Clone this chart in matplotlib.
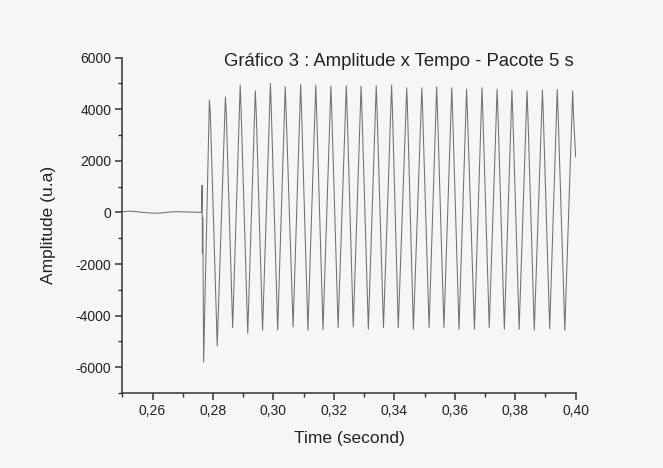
import matplotlib
matplotlib.use("Agg")
import matplotlib.pyplot as plt
from matplotlib.ticker import MultipleLocator, FuncFormatter

plt.rcParams['font.family'] = ['Liberation Sans', 'DejaVu Sans']
plt.rcParams['axes.unicode_minus'] = False

# valores (tempo em s, amplitude em u.a)
t_flat = [0.2500, 0.2530, 0.2560, 0.2590, 0.2620, 0.2650, 0.2680, 0.2710, 0.2740, 0.2762]
v_flat = [30, 50, 10, -20, -30, 10, 30, 20, 10, 0]

t_onset = [0.2764, 0.2765, 0.2766, 0.2767, 0.2769]
v_onset = [1050, -1600, -200, -1600, -5800]

t_peaks = [0.2788, 0.2841, 0.2890, 0.2940, 0.2990, 0.3039, 0.3090, 0.3140, 0.3190,
           0.3241, 0.3290, 0.3340, 0.3391, 0.3441, 0.3491, 0.3540, 0.3590, 0.3639,
           0.3690, 0.3740, 0.3789, 0.3839, 0.3890, 0.3939, 0.3990]
v_peaks = [4354, 4483, 4938, 4716, 5004, 4872, 4965, 4938, 4899, 4911, 4899, 4911,
           4938, 4833, 4833, 4872, 4833, 4782, 4833, 4782, 4743, 4716, 4743, 4770, 4716]
# pequeno "ombro" logo abaixo de cada pico
t_shoulder = [0.2791, 0.2844, 0.2893, 0.2943, 0.2993, 0.3042, 0.3093, 0.3143, 0.3193,
              0.3244, 0.3293, 0.3343, 0.3394, 0.3444, 0.3494, 0.3543, 0.3593, 0.3642,
              0.3693, 0.3743, 0.3792, 0.3842, 0.3893, 0.3942, 0.3993]
v_shoulder = [3900, 3850, 3950, 3900, 3950, 3900, 3950, 3900, 3900, 3900, 3900, 3900,
              3850, 3800, 3800, 3850, 3800, 3800, 3800, 3800, 3750, 3750, 3750, 3800, 3700]

t_troughs = [0.2814, 0.2865, 0.2915, 0.2964, 0.3014, 0.3065, 0.3114, 0.3164, 0.3214,
             0.3264, 0.3314, 0.3364, 0.3413, 0.3463, 0.3515, 0.3564, 0.3614, 0.3665,
             0.3714, 0.3764, 0.3813, 0.3863, 0.3914, 0.3964]
v_troughs = [-5179, -4467, -4685, -4568, -4556, -4440, -4568, -4545, -4467, -4440,
             -4529, -4467, -4467, -4529, -4467, -4467, -4529, -4529, -4467, -4529,
             -4529, -4568, -4506, -4568]

t_end = 0.4000
v_end = 2150

# monta a serie na ordem do tempo
t = list(t_flat) + list(t_onset)
v = list(v_flat) + list(v_onset)
for i in range(len(t_peaks)):
    t += [t_peaks[i], t_shoulder[i]]
    v += [v_peaks[i], v_shoulder[i]]
    if i < len(t_troughs):
        t.append(t_troughs[i])
        v.append(v_troughs[i])
t.append(t_end)
v.append(v_end)

bg = '#f5f7f7'
fig = plt.figure(figsize=(6.63, 4.68), dpi=100, facecolor=bg)
ax = fig.add_axes([0.1845, 0.1603, 0.6838, 0.7164], facecolor=bg)

ax.plot(t, v, color='#707070', lw=0.75)

ax.set_xlim(0.25, 0.40)
ax.set_ylim(-7000, 6000)
ax.xaxis.set_minor_locator(MultipleLocator(0.01))
ax.yaxis.set_minor_locator(MultipleLocator(1000))
ax.xaxis.set_major_formatter(FuncFormatter(lambda x, p: ('%.2f' % x).replace('.', ',')))
ax.xaxis.set_ticks([0.26, 0.28, 0.30, 0.32, 0.34, 0.36, 0.38, 0.40])
ax.yaxis.set_ticks([-6000, -4000, -2000, 0, 2000, 4000, 6000])

for sp in ['top', 'right']:
    ax.spines[sp].set_visible(False)
for sp in ['left', 'bottom']:
    ax.spines[sp].set_linewidth(1.1)
    ax.spines[sp].set_color('#333333')

ax.tick_params(which='major', direction='out', length=5, width=1.1, color='#333333',
               labelsize=10, pad=3, labelcolor='#222222')
ax.tick_params(which='minor', direction='out', length=3, width=1.0, color='#333333')

ax.set_xlabel('Time (second)', fontsize=12.5, color='#222222', labelpad=9)
ax.set_ylabel('Amplitude (u.a)', fontsize=12.5, color='#222222', labelpad=14)

fig.text(399 / 663, 1 - 62 / 468, 'Gráfico 3 : Amplitude x Tempo - Pacote 5 s',
         fontsize=13.3, color='#222222', ha='center', va='center')

fig.savefig('out.png', dpi=100, facecolor=bg)
